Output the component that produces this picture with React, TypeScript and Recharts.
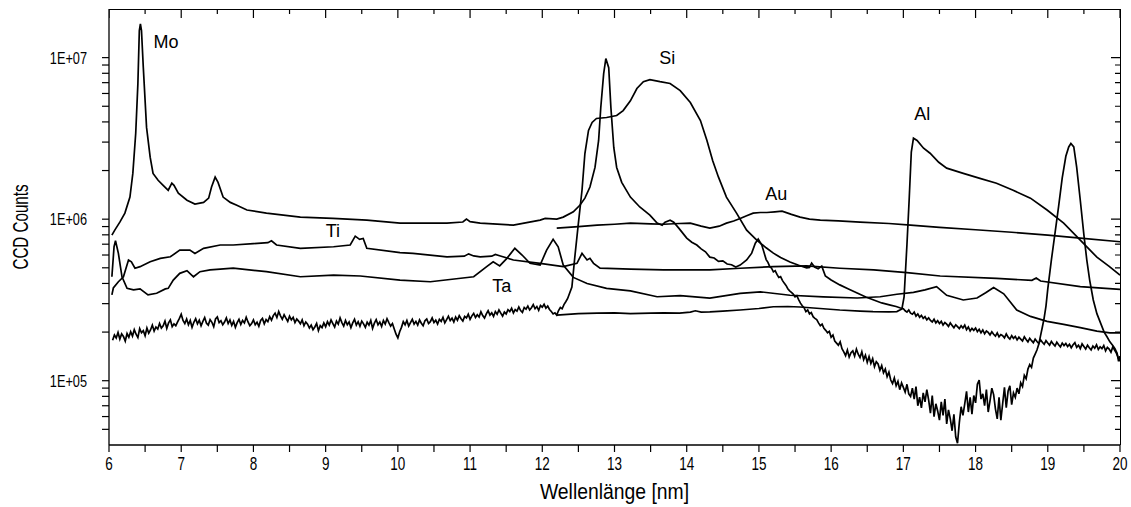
import React from 'react';
import { LineChart, Line, XAxis, YAxis, ReferenceDot, Label } from 'recharts';

// ---------- data (wavelength in nm, CCD counts) ----------
const moMainX = [6.04, 6.08, 6.15, 6.22, 6.29, 6.33, 6.37, 6.40, 6.42, 6.435, 6.45, 6.475, 6.52, 6.57, 6.61, 6.68, 6.75, 6.82, 6.87, 6.90, 6.96, 7.08, 7.19, 7.31, 7.38, 7.42, 7.47, 7.51, 7.58, 7.68, 7.77, 7.91, 8.18, 8.65, 9.10, 9.57, 10.03, 10.21, 10.68, 10.90, 10.95, 11.00, 11.14, 11.60, 11.97, 12.04, 12.20, 12.29, 12.43, 12.52, 12.59, 12.66, 12.73, 12.78, 12.81, 12.85, 12.88, 12.92, 12.95, 12.99, 13.03, 13.10, 13.22, 13.35, 13.49, 13.59, 13.66, 13.70, 13.77, 13.82, 13.89, 14.00, 14.07, 14.14, 14.20, 14.26, 14.32, 14.38, 14.44, 14.50, 14.56, 14.62, 14.68, 14.74, 14.83, 14.90, 14.95, 14.99, 15.04];
const moMainY = [796e3, 855e3, 958e3, 1.09e6, 1.37e6, 1.92e6, 3.4e6, 6.9e6, 1.47e7, 1.62e7, 1.47e7, 8.7e6, 3.7e6, 2.42e6, 1.92e6, 1.74e6, 1.62e6, 1.51e6, 1.67e6, 1.62e6, 1.45e6, 1.31e6, 1.24e6, 1.27e6, 1.35e6, 1.58e6, 1.82e6, 1.69e6, 1.37e6, 1.27e6, 1.22e6, 1.14e6, 1.09e6, 1.03e6, 1.01e6, 986e3, 945e3, 945e3, 945e3, 960e3, 1.0e6, 965e3, 945e3, 918e3, 986e3, 1.01e6, 1.0e6, 1.03e6, 1.11e6, 1.22e6, 1.35e6, 1.58e6, 2.09e6, 3.07e6, 4.91e6, 7.96e6, 9.86e6, 8.67e6, 4.91e6, 2.78e6, 2.09e6, 1.69e6, 1.37e6, 1.19e6, 1.06e6, 945e3, 918e3, 958e3, 986e3, 958e3, 880e3, 763e3, 720e3, 692e3, 655e3, 628e3, 582e3, 575e3, 548e3, 552e3, 528e3, 522e3, 505e3, 520e3, 559e3, 616e3, 710e3, 753e3, 692e3];
const moDipX = [
  15.1, 15.125, 15.15, 15.175, 15.2, 15.225, 15.25, 15.275, 15.3, 15.325,
  15.35, 15.375, 15.4, 15.425, 15.45, 15.475, 15.5, 15.525, 15.55, 15.575,
  15.6, 15.625, 15.65, 15.675, 15.7, 15.725, 15.75, 15.775, 15.8, 15.825,
  15.85, 15.875, 15.9, 15.925, 15.95, 15.975, 16.0, 16.025, 16.05, 16.075,
  16.1, 16.125, 16.15, 16.175, 16.2, 16.225, 16.25, 16.275, 16.3, 16.325,
  16.35, 16.375, 16.4, 16.425, 16.45, 16.475, 16.5, 16.525, 16.55, 16.575,
  16.6, 16.625, 16.65, 16.675, 16.7, 16.725, 16.75, 16.775, 16.8, 16.825,
  16.85, 16.875, 16.9, 16.925, 16.95, 16.975, 17.0, 17.025, 17.05, 17.075,
  17.1, 17.125, 17.15, 17.175, 17.2, 17.225, 17.25, 17.275, 17.3, 17.325,
  17.35, 17.375, 17.4, 17.425, 17.45, 17.475, 17.5, 17.525, 17.55, 17.575,
  17.6, 17.625, 17.65, 17.675, 17.7, 17.725, 17.75, 17.775, 17.8, 17.825,
  17.85, 17.875, 17.9, 17.925, 17.95, 17.975, 18.0, 18.025, 18.05, 18.075,
  18.1, 18.125, 18.15, 18.175, 18.2, 18.225, 18.25, 18.275, 18.3, 18.325,
  18.35, 18.375, 18.4, 18.425, 18.45, 18.475, 18.5, 18.525, 18.55, 18.575,
  18.6, 18.625, 18.65, 18.675, 18.7, 18.725, 18.75, 18.775, 18.8, 18.825,
  18.85, 18.875, 18.9, 18.925, 18.95, 18.975];
const moDipY = [
  562e3, 540e3, 508e3, 497e3, 472e3, 480e3, 455e3, 436e3, 441e3, 418e3,
  402e3, 389e3, 371e3, 360e3, 352e3, 344e3, 331e3, 336e3, 318e3, 302e3,
  291e3, 283e3, 268e3, 274e3, 259e3, 264e3, 249e3, 243e3, 239e3, 228e3,
  219e3, 224e3, 211e3, 205e3, 198e3, 202e3, 186e3, 192e3, 176e3, 171e3,
  166e3, 174e3, 158e3, 151e3, 143e3, 155e3, 140e3, 149e3, 153e3, 142e3,
  157e3, 146e3, 139e3, 151e3, 135e3, 144e3, 130e3, 141e3, 128e3, 137e3,
  122e3, 131e3, 127e3, 116e3, 124e3, 112e3, 118e3, 106e3, 113e3, 101e3,
  96e3, 104e3, 93e3, 99e3, 88e3, 97e3, 91e3, 85e3, 95e3, 83e3,
  80e3, 90e3, 77e3, 92e3, 70e3, 79e3, 68e3, 84e3, 74e3, 88e3,
  76e3, 63e3, 81e3, 60e3, 72e3, 65e3, 57e3, 74e3, 61e3, 77e3,
  54e3, 66e3, 58e3, 49e3, 62e3, 45e3, 41e3, 55e3, 69e3, 61e3,
  72e3, 86e3, 64e3, 79e3, 62e3, 81e3, 73e3, 95e3, 101e3, 77e3,
  83e3, 70e3, 88e3, 64e3, 75e3, 90e3, 82e3, 67e3, 58e3, 79e3,
  57e3, 72e3, 91e3, 68e3, 86e3, 93e3, 71e3, 84e3, 79e3, 90e3,
  83e3, 97e3, 92e3, 108e3, 103e3, 118e3, 126e3, 121e3, 138e3, 146e3,
  155e3, 168e3, 190e3, 215e3, 245e3, 290e3];
const moPeakX = [19.00, 19.05, 19.10, 19.15, 19.20, 19.25, 19.29, 19.32, 19.36, 19.40, 19.45, 19.50, 19.54, 19.58, 19.63, 19.68, 19.73, 19.78, 19.82, 19.86, 19.90, 19.93, 19.96, 19.98, 20.00];
const moPeakY = [370e3, 560e3, 820e3, 1.2e6, 1.8e6, 2.45e6, 2.8e6, 2.94e6, 2.8e6, 2.1e6, 1.31e6, 800e3, 560e3, 420e3, 316e3, 260e3, 228e3, 200e3, 187e3, 174e3, 165e3, 158e3, 148e3, 132e3, 142e3];

const siFloorX = [
  6.05, 6.075, 6.1, 6.125, 6.15, 6.175, 6.2, 6.225, 6.25, 6.275,
  6.3, 6.325, 6.35, 6.375, 6.4, 6.425, 6.45, 6.475, 6.5, 6.525,
  6.55, 6.575, 6.6, 6.625, 6.65, 6.675, 6.7, 6.725, 6.75, 6.775,
  6.8, 6.825, 6.85, 6.875, 6.9, 6.925, 6.95, 6.975, 7.0, 7.025,
  7.05, 7.075, 7.1, 7.125, 7.15, 7.175, 7.2, 7.225, 7.25, 7.275,
  7.3, 7.325, 7.35, 7.375, 7.4, 7.425, 7.45, 7.475, 7.5, 7.525,
  7.55, 7.575, 7.6, 7.625, 7.65, 7.675, 7.7, 7.725, 7.75, 7.775,
  7.8, 7.825, 7.85, 7.875, 7.9, 7.925, 7.95, 7.975, 8.0, 8.025,
  8.05, 8.075, 8.1, 8.125, 8.15, 8.175, 8.2, 8.225, 8.25, 8.275,
  8.3, 8.325, 8.35, 8.375, 8.4, 8.425, 8.45, 8.475, 8.5, 8.525,
  8.55, 8.575, 8.6, 8.625, 8.65, 8.675, 8.7, 8.725, 8.75, 8.775,
  8.8, 8.825, 8.85, 8.875, 8.9, 8.925, 8.95, 8.975, 9.0, 9.025,
  9.05, 9.075, 9.1, 9.125, 9.15, 9.175, 9.2, 9.225, 9.25, 9.275,
  9.3, 9.325, 9.35, 9.375, 9.4, 9.425, 9.45, 9.475, 9.5, 9.525,
  9.55, 9.575, 9.6, 9.625, 9.65, 9.675, 9.7, 9.725, 9.75, 9.775,
  9.8, 9.825, 9.85, 9.875, 9.9, 9.925, 9.95, 9.975, 10.0, 10.025,
  10.05, 10.075, 10.1, 10.125, 10.15, 10.175, 10.2, 10.225, 10.25, 10.275,
  10.3, 10.325, 10.35, 10.375, 10.4, 10.425, 10.45, 10.475, 10.5, 10.525,
  10.55, 10.575, 10.6, 10.625, 10.65, 10.675, 10.7, 10.725, 10.75, 10.775,
  10.8, 10.825, 10.85, 10.875, 10.9, 10.925, 10.95, 10.975, 11.0, 11.025,
  11.05, 11.075, 11.1, 11.125, 11.15, 11.175, 11.2, 11.225, 11.25, 11.275,
  11.3, 11.325, 11.35, 11.375, 11.4, 11.425, 11.45, 11.475, 11.5, 11.525,
  11.55, 11.575, 11.6, 11.625, 11.65, 11.675, 11.7, 11.725, 11.75, 11.775,
  11.8, 11.825, 11.85, 11.875, 11.9, 11.925, 11.95, 11.975, 12.0, 12.025,
  12.05, 12.075, 12.1, 12.125, 12.15, 12.175, 12.2, 12.225, 12.25, 12.275,
  12.3, 12.325, 12.35];
const siFloorY = [
  178e3, 192e3, 184e3, 199e3, 181e3, 195e3, 188e3, 176e3, 196e3, 186e3,
  201e3, 189e3, 207e3, 194e3, 185e3, 210e3, 198e3, 204e3, 190e3, 212e3,
  197e3, 206e3, 221e3, 203e3, 215e3, 209e3, 226e3, 212e3, 219e3, 234e3,
  211e3, 228e3, 238e3, 216e3, 225e3, 219e3, 231e3, 243e3, 258e3, 236e3,
  226e3, 241e3, 222e3, 236e3, 214e3, 230e3, 242e3, 225e3, 237e3, 219e3,
  233e3, 246e3, 227e3, 221e3, 239e3, 230e3, 216e3, 241e3, 248e3, 229e3,
  235e3, 222e3, 231e3, 245e3, 226e3, 238e3, 220e3, 233e3, 214e3, 229e3,
  240e3, 223e3, 236e3, 228e3, 247e3, 231e3, 219e3, 226e3, 238e3, 222e3,
  230e3, 217e3, 236e3, 243e3, 225e3, 239e3, 232e3, 249e3, 237e3, 253e3,
  262e3, 246e3, 268e3, 252e3, 240e3, 256e3, 244e3, 233e3, 251e3, 238e3,
  247e3, 229e3, 241e3, 234e3, 225e3, 238e3, 219e3, 231e3, 224e3, 212e3,
  221e3, 207e3, 215e3, 226e3, 204e3, 219e3, 213e3, 228e3, 216e3, 232e3,
  221e3, 238e3, 226e3, 215e3, 234e3, 224e3, 245e3, 229e3, 218e3, 236e3,
  222e3, 231e3, 213e3, 228e3, 240e3, 221e3, 232e3, 217e3, 234e3, 225e3,
  214e3, 230e3, 221e3, 236e3, 211e3, 227e3, 239e3, 222e3, 231e3, 217e3,
  236e3, 224e3, 242e3, 229e3, 218e3, 226e3, 209e3, 194e3, 184e3, 201e3,
  214e3, 232e3, 222e3, 236e3, 218e3, 229e3, 240e3, 224e3, 233e3, 221e3,
  238e3, 227e3, 219e3, 235e3, 241e3, 226e3, 232e3, 245e3, 229e3, 237e3,
  224e3, 240e3, 233e3, 247e3, 228e3, 239e3, 251e3, 236e3, 244e3, 231e3,
  248e3, 237e3, 253e3, 242e3, 234e3, 250e3, 245e3, 258e3, 240e3, 252e3,
  261e3, 246e3, 256e3, 248e3, 267e3, 253e3, 244e3, 259e3, 271e3, 255e3,
  263e3, 250e3, 268e3, 258e3, 274e3, 262e3, 251e3, 266e3, 259e3, 275e3,
  268e3, 281e3, 263e3, 276e3, 270e3, 286e3, 272e3, 265e3, 284e3, 277e3,
  290e3, 274e3, 283e3, 296e3, 279e3, 288e3, 273e3, 292e3, 285e3, 297e3,
  281e3, 290e3, 276e3, 268e3, 259e3, 263e3, 255e3, 272e3, 284e3, 279e3,
  296e3, 308e3, 322e3];
const siHumpX = [12.41, 12.45, 12.50, 12.55, 12.59, 12.64, 12.69, 12.75, 12.89, 13.03, 13.12, 13.22, 13.31, 13.40, 13.49, 13.63, 13.77, 13.91, 14.05, 14.19, 14.28, 14.36, 14.44, 14.55, 14.69, 14.83, 14.97, 15.10, 15.20, 15.30, 15.43, 15.55, 15.66, 15.70, 15.73, 15.77, 15.82, 15.87, 15.92, 16.00, 16.12, 16.24, 16.36, 16.48, 16.59, 16.70, 16.82, 16.90, 16.96];
const siHumpY = [380e3, 580e3, 945e3, 1.51e6, 2.55e6, 3.54e6, 3.97e6, 4.2e6, 4.26e6, 4.38e6, 4.7e6, 5.4e6, 6.44e6, 7.1e6, 7.31e6, 7.1e6, 6.92e6, 6.25e6, 5.27e6, 4.08e6, 3.07e6, 2.3e6, 1.82e6, 1.37e6, 1.09e6, 855e3, 742e3, 665e3, 616e3, 580e3, 543e3, 518e3, 500e3, 503e3, 535e3, 506e3, 494e3, 512e3, 445e3, 420e3, 392e3, 370e3, 349e3, 330e3, 316e3, 303e3, 294e3, 288e3, 282e3];
const siTailX = [
  17.0, 17.025, 17.05, 17.075, 17.1, 17.125, 17.15, 17.175, 17.2, 17.225,
  17.25, 17.275, 17.3, 17.325, 17.35, 17.375, 17.4, 17.425, 17.45, 17.475,
  17.5, 17.525, 17.55, 17.575, 17.6, 17.625, 17.65, 17.675, 17.7, 17.725,
  17.75, 17.775, 17.8, 17.825, 17.85, 17.875, 17.9, 17.925, 17.95, 17.975,
  18.0, 18.025, 18.05, 18.075, 18.1, 18.125, 18.15, 18.175, 18.2, 18.225,
  18.25, 18.275, 18.3, 18.325, 18.35, 18.375, 18.4, 18.425, 18.45, 18.475,
  18.5, 18.525, 18.55, 18.575, 18.6, 18.625, 18.65, 18.675, 18.7, 18.725,
  18.75, 18.775, 18.8, 18.825, 18.85, 18.875, 18.9, 18.925, 18.95, 18.975,
  19.0, 19.025, 19.05, 19.075, 19.1, 19.125, 19.15, 19.175, 19.2, 19.225,
  19.25, 19.275, 19.3, 19.325, 19.35, 19.375, 19.4, 19.425, 19.45, 19.475,
  19.5, 19.525, 19.55, 19.575, 19.6, 19.625, 19.65, 19.675, 19.7, 19.725,
  19.75, 19.775, 19.8, 19.825, 19.85, 19.875, 19.9, 19.925, 19.95, 19.975,
  20.0];
const siTailY = [
  279e3, 271e3, 266e3, 274e3, 262e3, 258e3, 266e3, 251e3, 259e3, 247e3,
  254e3, 243e3, 249e3, 238e3, 245e3, 236e3, 231e3, 240e3, 228e3, 235e3,
  226e3, 233e3, 221e3, 229e3, 224e3, 217e3, 228e3, 220e3, 213e3, 222e3,
  216e3, 210e3, 219e3, 212e3, 221e3, 207e3, 215e3, 203e3, 211e3, 205e3,
  212e3, 201e3, 208e3, 198e3, 206e3, 195e3, 203e3, 199e3, 192e3, 201e3,
  194e3, 189e3, 198e3, 187e3, 193e3, 190e3, 184e3, 195e3, 186e3, 181e3,
  190e3, 183e3, 188e3, 179e3, 186e3, 181e3, 176e3, 187e3, 180e3, 174e3,
  183e3, 177e3, 172e3, 181e3, 175e3, 170e3, 179e3, 173e3, 168e3, 177e3,
  171e3, 166e3, 175e3, 169e3, 164e3, 173e3, 167e3, 162e3, 171e3, 165e3,
  170e3, 163e3, 168e3, 160e3, 167e3, 172e3, 161e3, 166e3, 158e3, 169e3,
  163e3, 157e3, 166e3, 160e3, 155e3, 164e3, 159e3, 167e3, 156e3, 162e3,
  158e3, 165e3, 153e3, 161e3, 157e3, 150e3, 162e3, 155e3, 148e3, 139e3,
  132e3];

const tiX = [6.04, 6.06, 6.13, 6.20, 6.27, 6.31, 6.36, 6.43, 6.57, 6.71, 6.85, 6.98, 7.12, 7.19, 7.31, 7.54, 7.72, 8.00, 8.20, 8.25, 8.32, 8.65, 9.11, 9.34, 9.41, 9.47, 9.52, 9.57, 10.03, 10.21, 10.68, 10.92, 10.98, 11.05, 11.14, 11.30, 11.35, 11.42, 11.60, 11.97, 12.29, 12.48, 12.55, 12.62, 12.66, 12.71, 12.80, 13.22, 13.68, 14.32, 14.74, 15.20, 15.66, 16.12, 16.59, 17.05, 17.51, 18.29, 18.78, 18.84, 18.90, 19.45, 20.00];
const tiY = [340e3, 375e3, 410e3, 440e3, 559e3, 545e3, 497e3, 508e3, 545e3, 572e3, 585e3, 644e3, 644e3, 614e3, 660e3, 692e3, 692e3, 705e3, 715e3, 735e3, 692e3, 660e3, 675e3, 692e3, 785e3, 750e3, 760e3, 660e3, 620e3, 614e3, 585e3, 590e3, 610e3, 592e3, 585e3, 590e3, 605e3, 592e3, 559e3, 533e3, 508e3, 533e3, 614e3, 559e3, 572e3, 533e3, 497e3, 490e3, 485e3, 485e3, 497e3, 508e3, 514e3, 497e3, 485e3, 467e3, 445e3, 430e3, 418e3, 432e3, 414e3, 382e3, 368e3];

const taX = [6.04, 6.07, 6.09, 6.13, 6.18, 6.25, 6.34, 6.43, 6.54, 6.66, 6.78, 6.82, 6.89, 6.98, 7.08, 7.17, 7.26, 7.40, 7.54, 7.72, 8.18, 8.65, 9.11, 9.48, 10.03, 10.45, 11.05, 11.23, 11.32, 11.41, 11.51, 11.62, 11.72, 11.83, 11.97, 12.06, 12.15, 12.22, 12.29, 12.43, 12.62, 12.89, 13.22, 13.59, 13.91, 14.32, 14.74, 15.02, 15.43, 15.89, 16.36, 16.68, 16.91, 17.14, 17.30, 17.46, 17.60, 17.83, 18.02, 18.14, 18.25, 18.39, 18.57, 18.76, 18.99, 19.22, 19.45, 19.68, 19.86, 20.00];
const taY = [440e3, 675e3, 735e3, 614e3, 440e3, 373e3, 365e3, 370e3, 340e3, 348e3, 370e3, 373e3, 420e3, 462e3, 480e3, 440e3, 473e3, 485e3, 490e3, 497e3, 473e3, 440e3, 450e3, 445e3, 420e3, 410e3, 440e3, 508e3, 545e3, 514e3, 572e3, 660e3, 600e3, 533e3, 520e3, 644e3, 750e3, 675e3, 520e3, 436e3, 400e3, 373e3, 360e3, 331e3, 336e3, 325e3, 347e3, 355e3, 338e3, 330e3, 325e3, 331e3, 343e3, 352e3, 365e3, 382e3, 338e3, 316e3, 325e3, 350e3, 378e3, 345e3, 274e3, 250e3, 233e3, 223e3, 213e3, 203e3, 198e3, 198e3];

const auX = [12.20, 12.50, 12.76, 13.00, 13.22, 13.50, 13.68, 13.90, 14.05, 14.20, 14.32, 14.45, 14.55, 14.65, 14.74, 14.83, 14.92, 15.02, 15.11, 15.22, 15.32, 15.45, 15.57, 15.70, 15.85, 16.10, 16.40, 16.80, 17.10, 17.50, 18.00, 18.50, 19.00, 19.45, 20.00];
const auY = [880e3, 900e3, 918e3, 930e3, 945e3, 935e3, 930e3, 940e3, 945e3, 905e3, 880e3, 905e3, 945e3, 975e3, 1.01e6, 1.05e6, 1.09e6, 1.1e6, 1.1e6, 1.11e6, 1.12e6, 1.07e6, 1.03e6, 1.0e6, 986e3, 975e3, 960e3, 940e3, 918e3, 890e3, 860e3, 830e3, 796e3, 763e3, 725e3];

const alX = [12.20, 12.50, 12.76, 13.00, 13.22, 13.50, 13.68, 13.90, 14.05, 14.12, 14.20, 14.32, 14.50, 14.74, 15.00, 15.20, 15.40, 15.57, 15.80, 16.12, 16.40, 16.58, 16.80, 16.91, 16.98, 17.01, 17.05, 17.08, 17.11, 17.14, 17.19, 17.28, 17.37, 17.49, 17.60, 17.83, 18.06, 18.29, 18.52, 18.76, 18.99, 19.22, 19.45, 19.68, 19.85, 20.00];
const alY = [255e3, 260e3, 262e3, 263e3, 260e3, 262e3, 263e3, 262e3, 266e3, 271e3, 266e3, 267e3, 270e3, 274e3, 280e3, 287e3, 288e3, 286e3, 281e3, 274e3, 270e3, 268e3, 267e3, 268e3, 278e3, 330e3, 700e3, 1.31e6, 2.6e6, 3.17e6, 3.07e6, 2.75e6, 2.56e6, 2.25e6, 2.07e6, 1.92e6, 1.79e6, 1.67e6, 1.51e6, 1.35e6, 1.14e6, 945e3, 742e3, 582e3, 510e3, 450e3];

const xTicks = [6, 6.5, 7, 7.5, 8, 8.5, 9, 9.5, 10, 10.5, 11, 11.5, 12, 12.5, 13, 13.5, 14, 14.5, 15, 15.5, 16, 16.5, 17, 17.5, 18, 18.5, 19, 19.5, 20];
const yTicks = [5e4, 6e4, 7e4, 8e4, 9e4, 1e5, 2e5, 3e5, 4e5, 5e5, 6e5, 7e5, 8e5, 9e5, 1e6, 2e6, 3e6, 4e6, 5e6, 6e6, 7e6, 8e6, 9e6, 1e7];
const X_DOMAIN = [6, 20];
const Y_DOMAIN = [4e4, 2e7];

const annotations = [
  { text: 'Mo', x: 6.79, y: 1.25e7 },
  { text: 'Si', x: 13.73, y: 1.0e7 },
  { text: 'Ti', x: 9.1, y: 8.55e5 },
  { text: 'Ta', x: 11.44, y: 3.91e5 },
  { text: 'Au', x: 15.24, y: 1.45e6 },
  { text: 'Al', x: 17.26, y: 4.53e6 },
];

// ---------- layout ----------
const W = 1131;
const H = 507;
const PLOT = { left: 109, top: 9, right: 1120, bottom: 445 };
const Y_AXIS_W = 80;
const X_AXIS_H = 40;
const MARGIN = {
  top: PLOT.top,
  right: W - PLOT.right,
  left: PLOT.left - Y_AXIS_W,
  bottom: H - PLOT.bottom - X_AXIS_H,
};
const TICK_OUT = 7;
const MAJOR_IN = 9;
const MINOR_IN = 5;

const zip = (xs: number[], ys: number[]) => xs.map((x, i) => ({ x, y: ys[i] }));
const series = [
  { name: 'Mo', data: [...zip(moMainX, moMainY), ...zip(moDipX, moDipY), ...zip(moPeakX, moPeakY)] },
  { name: 'Si', data: [...zip(siFloorX, siFloorY), ...zip(siHumpX, siHumpY), ...zip(siTailX, siTailY)] },
  { name: 'Ti', data: zip(tiX, tiY) },
  { name: 'Ta', data: zip(taX, taY) },
  { name: 'Au', data: zip(auX, auY) },
  { name: 'Al', data: zip(alX, alY) },
];

const isMajorX = (v: number) => Math.abs(v - Math.round(v)) < 1e-9;
const isMajorY = (v: number) => {
  const l = Math.log10(v);
  return Math.abs(l - Math.round(l)) < 1e-6;
};

const pxPerDecade = (PLOT.bottom - PLOT.top) / Math.log10(Y_DOMAIN[1] / Y_DOMAIN[0]);
const nmPerPx = (X_DOMAIN[1] - X_DOMAIN[0]) / (PLOT.right - PLOT.left);
const topTickData = xTicks.flatMap((t) => {
  const len = isMajorX(t) ? MAJOR_IN : MINOR_IN;
  return [
    { x: t, y: Y_DOMAIN[1] },
    { x: t, y: Y_DOMAIN[1] / Math.pow(10, len / pxPerDecade) },
    { x: t, y: null },
  ];
});
const rightTickData = yTicks.flatMap((t) => {
  const len = isMajorY(t) ? MAJOR_IN : MINOR_IN;
  return [
    { x: X_DOMAIN[1], y: t },
    { x: X_DOMAIN[1] - len * nmPerPx, y: t },
    { x: X_DOMAIN[1] - len * nmPerPx, y: null },
  ];
});

const FONT = "'Liberation Sans', Arial, Helvetica, sans-serif";
const fmtY = (v: number) => {
  const e = Math.round(Math.log10(v));
  return `1E+${e < 10 ? '0' + e : e}`;
};

const BottomTick = (p: any) => {
  const { x, y, payload } = p;
  if (!isMajorX(payload.value)) return <g />;
  return (
    <text transform={`translate(${x},${y + 18}) scale(0.75,1)`} textAnchor="middle" fontSize={18} fontFamily={FONT} fill="#000" stroke="none">
      {payload.value}
    </text>
  );
};
const LeftTick = (p: any) => {
  const { x, y, payload } = p;
  if (!isMajorY(payload.value)) return <g />;
  return (
    <text transform={`translate(${x - 15},${y}) scale(0.75,1)`} textAnchor="end" dy="0.36em" fontSize={17} fontFamily={FONT} fill="#000" stroke="none">
      {fmtY(payload.value)}
    </text>
  );
};

const XTitle = (p: any) => {
  const vb = p.viewBox || {};
  const cx = vb.x + vb.width / 2;
  return (
    <text transform={`translate(${cx},${vb.y + 54}) scale(0.88,1)`} textAnchor="middle" fontSize={22} fontFamily={FONT} fill="#000">
      Wellenlänge [nm]
    </text>
  );
};
const YTitle = (p: any) => {
  const vb = p.viewBox || {};
  const cy = vb.y + vb.height / 2;
  return (
    <text transform={`translate(${vb.x + vb.width - 89},${cy}) rotate(-90) scale(0.69,1)`} textAnchor="middle" dy="0.36em" fontSize={22} fontFamily={FONT} fill="#000">
      CCD Counts
    </text>
  );
};

export default function App() {
  return (
    <div style={{ position: 'absolute', left: 0, top: 0, width: W, height: H, background: '#fff' }}>
      <LineChart width={W} height={H} margin={MARGIN}>
        <XAxis
          dataKey="x"
          type="number"
          domain={X_DOMAIN}
          allowDataOverflow
          ticks={xTicks}
          interval={0}
          tickSize={TICK_OUT}
          tickMargin={0}
          height={X_AXIS_H}
          tick={<BottomTick />}
          axisLine={{ stroke: '#000', strokeWidth: 1.3 }}
          tickLine={{ stroke: '#000', strokeWidth: 1.2 }}
        >
          <Label content={<XTitle />} />
        </XAxis>
        <YAxis
          type="number"
          scale="log"
          domain={Y_DOMAIN}
          allowDataOverflow
          ticks={yTicks}
          interval={0}
          tickSize={TICK_OUT}
          tickMargin={0}
          width={Y_AXIS_W}
          tick={<LeftTick />}
          axisLine={{ stroke: '#000', strokeWidth: 1.3 }}
          tickLine={{ stroke: '#000', strokeWidth: 1.2 }}
        >
          <Label content={<YTitle />} />
        </YAxis>
        <Line data={topTickData} dataKey="y" type="linear" stroke="#000" strokeWidth={1.2} dot={false} activeDot={false} legendType="none" connectNulls={false} isAnimationActive={false} />
        <Line data={rightTickData} dataKey="y" type="linear" stroke="#000" strokeWidth={1.2} dot={false} activeDot={false} legendType="none" connectNulls={false} isAnimationActive={false} />
        {series.map((s) => (
          <Line key={s.name} data={s.data} dataKey="y" type="linear" stroke="#000" strokeWidth={1.7} dot={false} isAnimationActive={false} />
        ))}
        {annotations.map((a) => (
          <ReferenceDot
            key={a.text}
            x={a.x}
            y={a.y}
            r={1}
            ifOverflow="visible"
            shape={(p: any) => (
              <text x={p.cx} y={p.cy} dy="0.36em" textAnchor="middle" fontSize={18} fontFamily={FONT} fill="#000">
                {a.text}
              </text>
            )}
          />
        ))}
      </LineChart>
      {/* plot frame: top and right edges */}
      <div
        style={{
          position: 'absolute',
          left: PLOT.left,
          top: PLOT.top - 0.5,
          width: PLOT.right - PLOT.left + 0.5,
          height: PLOT.bottom - PLOT.top,
          borderTop: '1.3px solid #000',
          borderRight: '1.3px solid #000',
          boxSizing: 'border-box',
          pointerEvents: 'none',
        }}
      />
    </div>
  );
}
